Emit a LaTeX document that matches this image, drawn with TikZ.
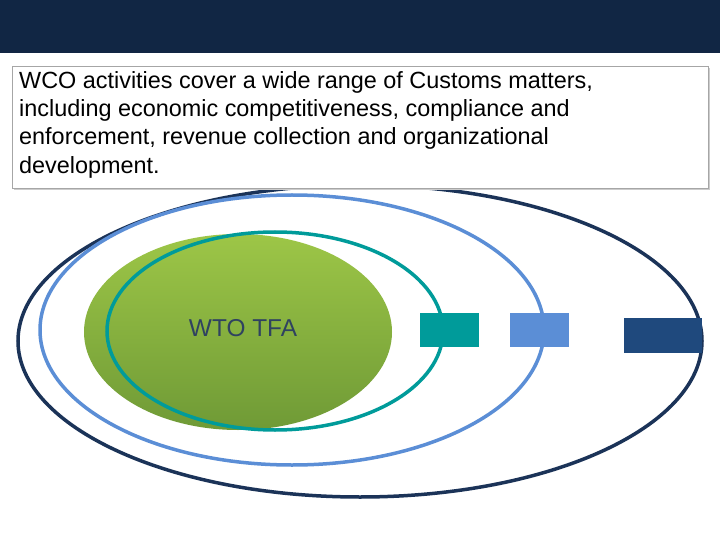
\documentclass[tikz,border=0pt]{standalone}
\usepackage{fontspec}
\setmainfont{Liberation Sans}
\begin{document}
\begin{tikzpicture}[x=1bp,y=-1bp,
  ring/.style={line width=3.5bp}]
\definecolor{navy}{HTML}{112644}
\definecolor{ringnavy}{HTML}{1B3358}
\definecolor{lblue}{HTML}{5B8ED6}
\definecolor{teal}{HTML}{009B9A}
\definecolor{gtop}{HTML}{9DC647}
\definecolor{gbot}{HTML}{6F9A36}
\definecolor{sqnavy}{HTML}{1F497D}
\useasboundingbox (0,0) rectangle (720,540);
\fill[white] (0,0) rectangle (720,540);
\fill[navy] (0,0) rectangle (720,53);
\draw[ring,ringnavy] (360,341) ellipse [x radius=342,y radius=156];
\draw[ring,lblue] (292,330) ellipse [x radius=252,y radius=135];
\shade[top color=gtop,bottom color=gbot] (238,332) ellipse [x radius=154,y radius=98];
\draw[ring,teal] (275,331) ellipse [x radius=168,y radius=99];
\node[text=ringnavy!80!gray,font=\fontsize{24.5}{28}\selectfont] (wto) at (243,328) {WTO TFA};
\fill[teal] (420,313) rectangle (479,347);
\fill[lblue] (510,313) rectangle (569,347);
\fill[sqnavy] (624,318) rectangle (702,353);
\fill[gray!40] (14,68) rectangle (710,190);
\draw[gray!70,fill=white] (12,66) rectangle (708,188);
\node[anchor=north west,align=left,inner sep=0pt,font=\fontsize{23.5}{28.5}\selectfont] (box) at (19,71)
  {WCO activities cover a wide range of Customs matters,\\including economic competitiveness, compliance and\\enforcement, revenue collection and organizational\\development.};
\end{tikzpicture}
\end{document}
